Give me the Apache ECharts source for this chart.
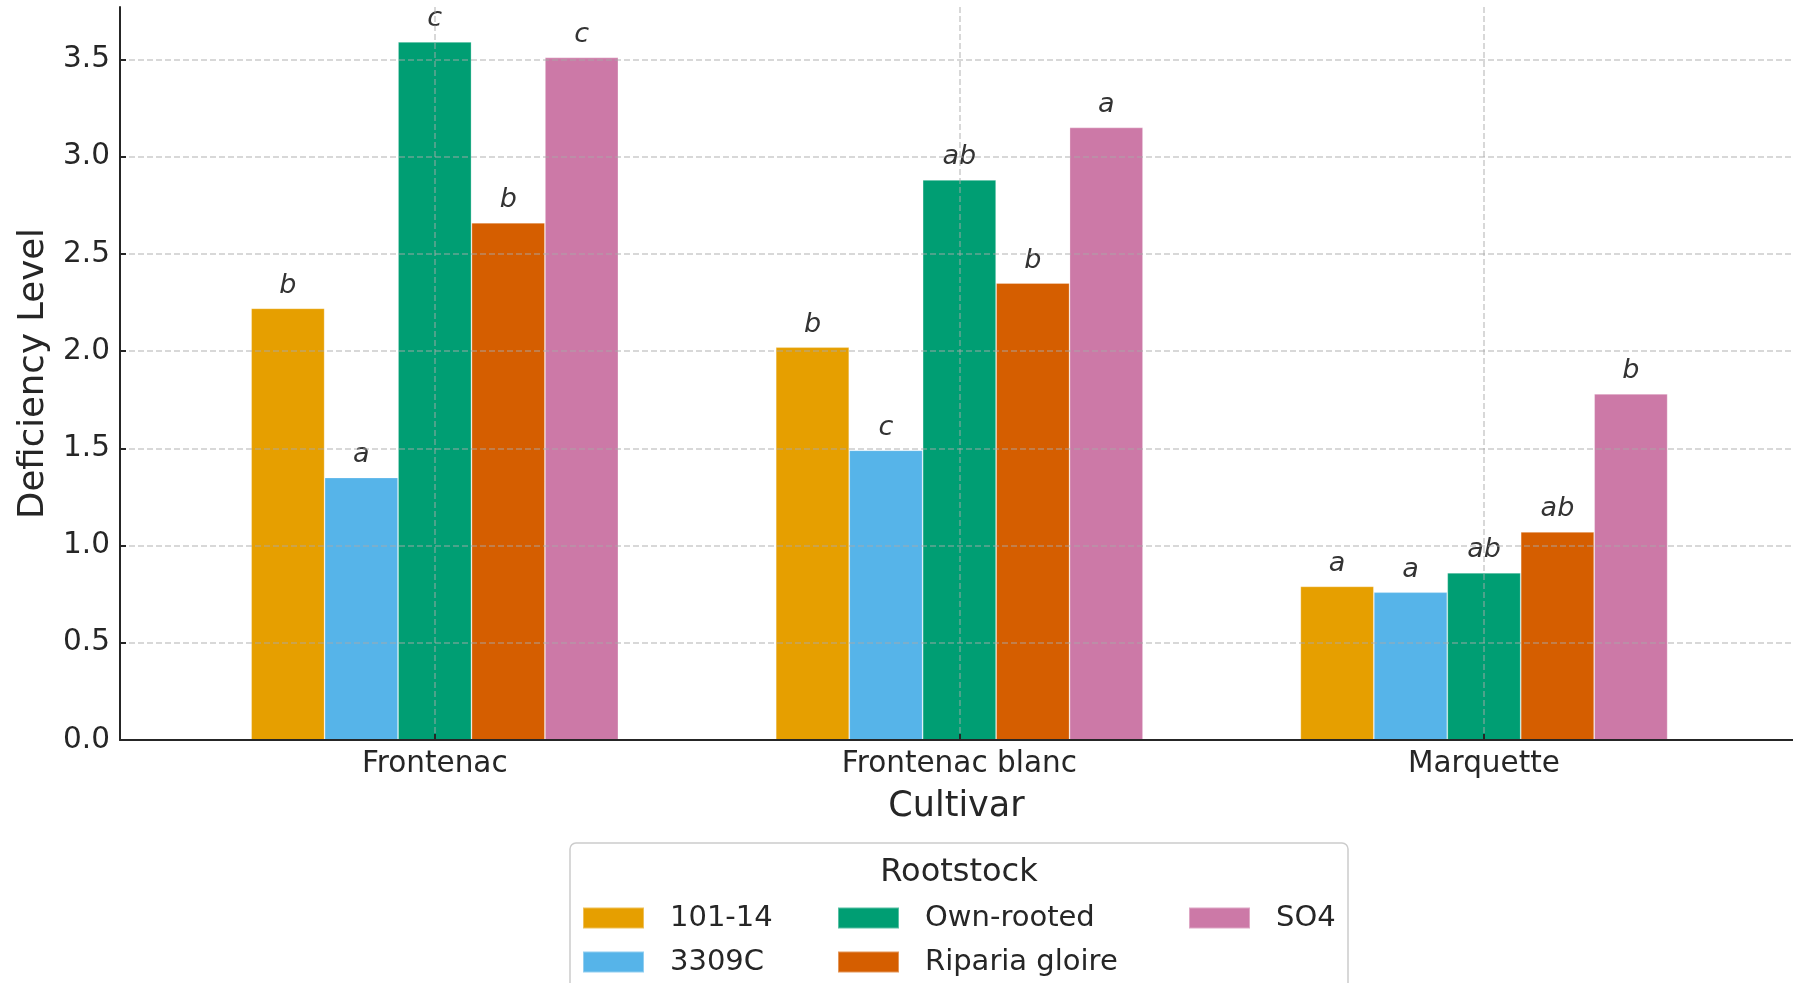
<!DOCTYPE html>
<html>
<head>
<meta charset="utf-8">
<title>Deficiency Level by Cultivar and Rootstock</title>
<script src="https://cdn.jsdelivr.net/npm/echarts@6/dist/echarts.min.js"></script>
<style>
  html, body { margin: 0; padding: 0; background: #ffffff; }
  #chart { width: 1793px; height: 983px; }
</style>
</head>
<body>
<div id="chart"></div>
<script>
// Cultivars along the x axis, one group of bars each
const cultivars = ['Frontenac', 'Frontenac blanc', 'Marquette'];

// Rootstocks (one bar series each) and their colours
const rootstocks = ['101-14', '3309C', 'Own-rooted', 'Riparia gloire', 'SO4'];
const rootstockColors = ['#E69F00', '#56B4E9', '#009E73', '#D55E00', '#CC79A7'];

// Mean deficiency level per cultivar, for each rootstock
const values_101_14 = [2.22, 2.02, 0.79];
const values_3309C = [1.35, 1.49, 0.76];
const values_ownRooted = [3.59, 2.88, 0.86];
const values_ripariaGloire = [2.66, 2.35, 1.07];
const values_SO4 = [3.51, 3.15, 1.78];

// Significance letters printed above each bar
const letters_101_14 = ['b', 'b', 'a'];
const letters_3309C = ['a', 'c', 'a'];
const letters_ownRooted = ['c', 'ab', 'ab'];
const letters_ripariaGloire = ['b', 'b', 'ab'];
const letters_SO4 = ['c', 'a', 'b'];

// Tick labels of the value axis
const yTicks = [0, 0.5, 1.0, 1.5, 2.0, 2.5, 3.0, 3.5];

const seriesValues = [values_101_14, values_3309C, values_ownRooted, values_ripariaGloire, values_SO4];
const seriesLetters = [letters_101_14, letters_3309C, letters_ownRooted, letters_ripariaGloire, letters_SO4];

const FONT = '"DejaVu Sans", sans-serif';
const INK = '#262626';
const cultivarPositions = cultivars.map((c, i) => i);
const yMax = Math.max(...seriesValues.flat()) * 1.05;

const chart = echarts.init(document.getElementById('chart'), null, { renderer: 'canvas' });

const series = rootstocks.map((name, s) => ({
  name: name,
  type: 'bar',
  barGap: '0%',
  barCategoryGap: '30%',
  z: 1,
  itemStyle: { color: rootstockColors[s], borderColor: 'rgba(255,255,255,0.35)', borderWidth: 0.8 },
  label: {
    show: true,
    position: 'top',
    distance: 9,
    fontFamily: FONT,
    fontStyle: 'italic',
    fontSize: 27,
    color: '#333333',
    formatter: (p) => seriesLetters[s][p.dataIndex]
  },
  emphasis: { disabled: true },
  data: seriesValues[s].map((v, i) => [cultivarPositions[i], v])
}));

// Legend arranged in columns, as a framed key below the axis
const legendColumns = [
  { left: 582, names: [rootstocks[0], rootstocks[1]] },
  { left: 837, names: [rootstocks[2], rootstocks[3]] },
  { left: 1188, names: [rootstocks[4]] }
];
const legends = legendColumns.map((col) => ({
  orient: 'vertical',
  left: col.left,
  top: 903,
  padding: 0,
  itemWidth: 61,
  itemHeight: 21,
  itemGap: 14,
  icon: 'rect',
  selectedMode: false,
  data: col.names,
  textStyle: {
    fontFamily: FONT,
    fontSize: 29,
    color: INK,
    lineHeight: 30,
    padding: [0, 0, 0, 21]
  }
}));

const option = {
  backgroundColor: '#ffffff',
  animation: false,
  color: rootstockColors,
  grid: { left: 120, right: 0, top: 7, bottom: 243, containLabel: false },
  legend: legends,
  xAxis: {
    type: 'value',
    min: -0.6,
    max: 2.589,
    z: 3,
    name: 'Cultivar',
    nameLocation: 'middle',
    nameGap: 49,
    nameTextStyle: { fontFamily: FONT, fontSize: 35, color: INK },
    axisLine: { show: true, onZero: false, lineStyle: { color: INK, width: 2 } },
    axisTick: { show: true, inside: true, length: 6, customValues: cultivarPositions, lineStyle: { color: INK, width: 2 } },
    axisLabel: {
      customValues: cultivarPositions,
      margin: 9,
      fontFamily: FONT,
      fontSize: 29.5,
      color: INK,
      formatter: (v) => cultivars[Math.round(v)]
    },
    splitLine: { show: true, lineStyle: { color: 'rgba(170,170,170,0.6)', width: 1.5, type: [6, 3] } }
  },
  yAxis: {
    type: 'value',
    min: 0,
    max: yMax,
    interval: 0.5,
    z: 3,
    name: 'Deficiency Level',
    nameLocation: 'middle',
    nameGap: 65,
    nameTextStyle: { fontFamily: FONT, fontSize: 35.5, color: INK },
    axisLine: { show: true, onZero: false, lineStyle: { color: INK, width: 2 } },
    axisTick: { show: true, inside: true, length: 6, customValues: yTicks, lineStyle: { color: INK, width: 2 } },
    axisLabel: {
      customValues: yTicks,
      margin: 10,
      fontFamily: FONT,
      fontSize: 29.5,
      color: INK,
      formatter: (v) => v.toFixed(1)
    },
    splitLine: { show: true, lineStyle: { color: 'rgba(170,170,170,0.6)', width: 1.5, type: [6, 3] } }
  },
  graphic: [
    {
      type: 'rect',
      z: -1,
      shape: { x: 570, y: 843, width: 778, height: 200, r: 6 },
      style: { fill: 'rgba(255,255,255,0.8)', stroke: '#cccccc', lineWidth: 1.5 }
    },
    {
      type: 'text',
      z: 5,
      x: 959,
      y: 872.5,
      style: {
        text: 'Rootstock',
        fontFamily: FONT,
        fontSize: 32,
        fill: INK,
        textAlign: 'center',
        textVerticalAlign: 'middle'
      }
    }
  ],
  series: series
};

chart.setOption(option);
</script>
</body>
</html>
